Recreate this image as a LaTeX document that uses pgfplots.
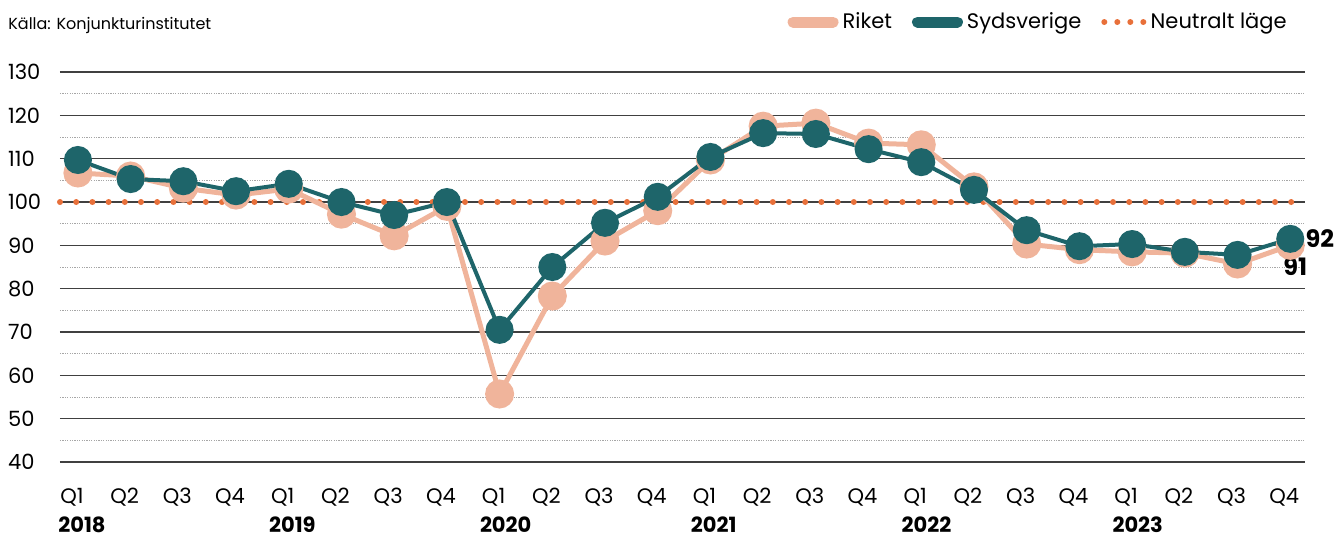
\documentclass[border=0pt]{standalone}
\usepackage{fontspec}
\setmainfont{Poppins}
\usepackage{pgfplots}
\pgfplotsset{compat=1.18}

\definecolor{riket}{RGB}{240,180,155}
\definecolor{syd}{RGB}{30,101,106}
\definecolor{neutral}{RGB}{232,112,58}

% Konjunkturbarometern, Riket och Sydsverige
\pgfplotstableread{
x riket syd
0  106.7 109.7
1  106.0 105.3
2  103.2 104.8
3  101.6 102.5
4  103.0 104.2
5  97.2  100.0
6  92.2  97.0
7  99.0  100.0
8  55.7  70.5
9  78.3  85.0
10 91.0  95.2
11 98.0  101.2
12 109.7 110.4
13 117.5 115.9
14 118.2 115.7
15 113.6 112.2
16 113.2 109.2
17 103.5 102.8
18 90.3  93.5
19 89.0  89.8
20 88.5  90.3
21 88.2  88.5
22 85.7  87.8
23 90.0  91.5
}\kidata

\tikzset{yearlbl/.style={anchor=west, inner sep=0pt, font=\bfseries\fontsize{10.5}{12}\selectfont}}

\begin{document}
\begin{tikzpicture}
\path[use as bounding box] (-30pt,-38pt) rectangle (638pt,231pt);
\begin{axis}[
  scale only axis,
  width=622.5pt, height=195pt,
  xmin=-0.34, xmax=23.28,
  ymin=40, ymax=130,
  clip=false,
  axis line style={draw=none},
  major tick length=0pt, minor tick length=0pt,
  ytick={40,50,...,130},
  minor ytick={45,55,...,125},
  ymajorgrids, yminorgrids,
  major grid style={draw=black!75, line width=0.6pt},
  minor grid style={draw=black!35, line width=0.5pt, dash pattern=on 0.6pt off 0.6pt},
  xtick={0,...,23},
  xticklabels={Q1,Q2,Q3,Q4,Q1,Q2,Q3,Q4,Q1,Q2,Q3,Q4,Q1,Q2,Q3,Q4,Q1,Q2,Q3,Q4,Q1,Q2,Q3,Q4},
  /pgf/number format/assume math mode=true,
  ticklabel style={font=\fontsize{10.5}{12}\selectfont, text=black},
  xticklabel style={anchor=center, yshift=-17.5pt, xshift=-3pt},
  yticklabel style={anchor=west, xshift=-29.5pt},
  legend style={draw=none, fill=none, at={(axis description cs:1,1)}, anchor=east,
    xshift=-4pt, yshift=25pt, font=\fontsize{10.5}{12}\selectfont,
    legend columns=-1,
    /tikz/every even column/.append style={column sep=8pt}},
  legend cell align=left,
]
\addplot[neutral, line width=3pt, line cap=round, dash pattern=on 0pt off 8.1pt, forget plot]
  coordinates {(-0.34,100) (23.28,100)};
\addplot[riket, line width=2.5pt, mark=*, mark size=6pt, mark options={draw=none, fill=riket},
  legend image code/.code={\draw[riket, line width=5.5pt, line cap=round] (0pt,0pt) -- (20pt,0pt);}]
  table[x=x, y=riket] {\kidata};
\addplot[syd, line width=2pt, mark=*, mark size=6pt, mark options={draw=none, fill=syd},
  legend image code/.code={\draw[syd, line width=5.5pt, line cap=round] (0pt,0pt) -- (20pt,0pt);}]
  table[x=x, y=syd] {\kidata};
\addlegendimage{legend image code/.code={\draw[neutral, line width=3pt, line cap=round, dash pattern=on 0pt off 6.5pt] (0pt,0pt) -- (19.7pt,0pt);}}
\legend{Riket,Sydsverige,Neutralt läge}

\node[anchor=west, inner sep=0pt, font=\bfseries\fontsize{12}{14}\selectfont] at ([xshift=7.5pt]axis cs:23,91.5) {92};
\node[anchor=center, inner sep=0pt, font=\bfseries\fontsize{12}{14}\selectfont] at ([xshift=2.5pt]axis cs:23,85.2) {91};

\node[yearlbl] at ([xshift=-10pt, yshift=-31.5pt]axis cs:0,40) {2018};
\node[yearlbl] at ([xshift=-10pt, yshift=-31.5pt]axis cs:4,40) {2019};
\node[yearlbl] at ([xshift=-10pt, yshift=-31.5pt]axis cs:8,40) {2020};
\node[yearlbl] at ([xshift=-10pt, yshift=-31.5pt]axis cs:12,40) {2021};
\node[yearlbl] at ([xshift=-10pt, yshift=-31.5pt]axis cs:16,40) {2022};
\node[yearlbl] at ([xshift=-10pt, yshift=-31.5pt]axis cs:20,40) {2023};
\node[anchor=west, inner sep=0pt, font=\fontsize{8}{9}\selectfont]
  at ([xshift=-26pt, yshift=218.5pt]rel axis cs:0,0) {Källa: Konjunkturinstitutet};
\end{axis}
\end{tikzpicture}
\end{document}
